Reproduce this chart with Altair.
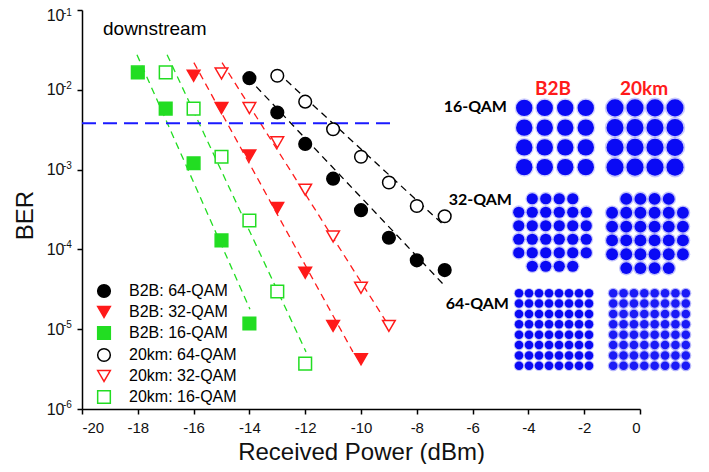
import altair as alt
import pandas as pd
import itertools

# ---------------- data ----------------
series_names = ["B2B: 64-QAM", "B2B: 32-QAM", "B2B: 16-QAM",
                "20km: 64-QAM", "20km: 32-QAM", "20km: 16-QAM"]

b2b64_p = [-14, -13, -12, -11, -10, -9, -8, -7]
b2b64_ber = [1.4e-2, 5.2e-3, 2.1e-3, 7.7e-4, 3.1e-4, 1.4e-4, 7.3e-5, 5.5e-5]
b2b32_p = [-16, -15, -14, -13, -12, -11, -10]
b2b32_ber = [1.5e-2, 5.9e-3, 1.5e-3, 3.3e-4, 5.1e-5, 1.1e-5, 4.2e-6]
b2b16_p = [-18, -17, -16, -15, -14]
b2b16_ber = [1.65e-2, 5.8e-3, 1.2e-3, 1.3e-4, 1.18e-5]
km64_p = [-13, -12, -11, -10, -9, -8, -7]
km64_ber = [1.5e-2, 7.1e-3, 3.2e-3, 1.45e-3, 6.9e-4, 3.5e-4, 2.6e-4]
km32_p = [-15, -14, -13, -12, -11, -10, -9]
km32_ber = [1.6e-2, 5.9e-3, 2.2e-3, 5.6e-4, 1.45e-4, 3.3e-5, 1.1e-5]
km16_p = [-17, -16, -15, -14, -13, -12]
km16_ber = [1.65e-2, 5.8e-3, 1.45e-3, 2.3e-4, 2.97e-5, 3.7e-6]

# fitted dashed lines (start / end)
fit_p0 = [-14.05, -15.99, -18.03, -13.0, -14.98, -16.95]
fit_p1 = [-6.99, -10.29, -13.98, -6.99, -9.05, -11.97]
fit_ber0 = [1.41e-2, 2.19e-2, 2.75e-2, 1.66e-2, 2.19e-2, 2.75e-2]
fit_ber1 = [3.47e-5, 5.2e-6, 1.78e-5, 1.95e-4, 1.17e-5, 5.2e-6]

# FEC threshold
fec_ber = 3.8e-3
fec_p = [-20, -8.71]

# y-axis decades
decades = [1e-6, 1e-5, 1e-4, 1e-3, 1e-2, 1e-1]
exponents = ["-6", "-5", "-4", "-3", "-2", "-1"]
x_ticks = [-20, -18, -16, -14, -12, -10, -8, -6, -4, -2, 0]

# constellation levels
qam16_levels = [-3, -1, 1, 3]
qam32_levels = [-5, -3, -1, 1, 3, 5]
qam64_levels = [-7, -5, -3, -1, 1, 3, 5, 7]

# ---------------- tables ----------------
pts = []
for name, ps, bs in zip(series_names,
                        [b2b64_p, b2b32_p, b2b16_p, km64_p, km32_p, km16_p],
                        [b2b64_ber, b2b32_ber, b2b16_ber, km64_ber, km32_ber, km16_ber]):
    for p, b in zip(ps, bs):
        pts.append({"series": name, "power": p, "ber": b})
pts_df = pd.DataFrame(pts)

fit_rows = []
for name, p0, p1, b0, b1 in zip(series_names, fit_p0, fit_p1, fit_ber0, fit_ber1):
    fit_rows.append({"fit": name, "power": p0, "ber": b0, "o": 0})
    fit_rows.append({"fit": name, "power": p1, "ber": b1, "o": 1})
fit_df = pd.DataFrame(fit_rows)

fec_df = pd.DataFrame({"power": fec_p, "ber": [fec_ber, fec_ber]})
exp_df = pd.DataFrame({"ber": decades, "exp": exponents})


def grid(levels, cross=False):
    rows = []
    for i, q in itertools.product(levels, levels):
        if cross and abs(i) == max(levels) and abs(q) == max(levels):
            continue
        rows.append({"I": i, "Q": q})
    return pd.DataFrame(rows)


# ---------------- styles ----------------
BLACK = "#000000"
RED = "#ff1a1a"
GREEN = "#22dd22"
BLUE = "#0a0af5"
FONT = "Liberation Sans"
CFONT = "Lato"

colors = [BLACK, RED, GREEN, BLACK, RED, GREEN]
fills = [BLACK, RED, GREEN, "white", "white", "white"]
shapes = ["circle", "triangle-down", "square", "circle", "triangle-down", "square"]

xs = alt.Scale(domain=[-20, 0], nice=False, zero=False)
ys = alt.Scale(type="log", domain=[1e-6, 1e-1], nice=False)

leg = alt.Legend(orient="none", legendX=14, legendY=273, title=None,
                 symbolSize=160, symbolStrokeWidth=1.5, labelFontSize=16,
                 labelFont=FONT, labelColor="black", rowPadding=2,
                 labelOffset=17, padding=0)

x_axis = alt.Axis(values=x_ticks, labelExpr="'' + datum.value",
                  title="Received Power (dBm)", grid=False,
                  domainColor="black", domainWidth=1.5, tickColor="black",
                  tickWidth=1.5, tickSize=5, labelFont=FONT, labelFontSize=15,
                  labelColor="#111", labelPadding=6, titleFont=FONT,
                  titleFontSize=24, titleFontWeight="normal", titleColor="#111",
                  titleY=50, titleBaseline="alphabetic")
y_axis = alt.Axis(values=decades, labelExpr="'10'", title="BER", grid=False,
                  domainColor="black", domainWidth=1.5, tickColor="black",
                  tickWidth=1.5, tickSize=5, labelFont=FONT, labelFontSize=16,
                  labelColor="#111", labelPadding=13,
                  labelOffset={"condition": {"test": "datum.value > 0.05", "value": 5},
                               "value": 0},
                  titleFont=FONT,
                  titleFontSize=24, titleFontWeight="normal", titleColor="#111",
                  titleX=-57, titleY=205, titleAngle=-90, titleBaseline="middle")


def fit_layer(names, color, axes=False):
    return alt.Chart(fit_df).transform_filter(
        alt.FieldOneOfPredicate(field="fit", oneOf=names)
    ).mark_line(strokeDash=[7, 5], strokeWidth=1.3, color=color).encode(
        x=alt.X("power:Q", scale=xs, axis=x_axis if axes else None),
        y=alt.Y("ber:Q", scale=ys, axis=y_axis if axes else None),
        detail="fit:N",
        order="o:Q",
    )


line_layers = [
    fit_layer([series_names[0], series_names[3]], BLACK, axes=True),
    fit_layer([series_names[1], series_names[4]], RED),
    fit_layer([series_names[2], series_names[5]], GREEN),
]

fec = alt.Chart(fec_df).mark_line(strokeDash=[14, 7], strokeWidth=2, color="#1a1aff").encode(
    x=alt.X("power:Q", scale=xs, axis=None),
    y=alt.Y("ber:Q", scale=ys, axis=None),
)

points = alt.Chart(pts_df).mark_point(strokeWidth=1.5, opacity=1, size=160).encode(
    x=alt.X("power:Q", scale=xs, axis=None),
    y=alt.Y("ber:Q", scale=ys, axis=None),
    shape=alt.Shape("series:N", scale=alt.Scale(domain=series_names, range=shapes), legend=leg),
    stroke=alt.Stroke("series:N", scale=alt.Scale(domain=series_names, range=colors), legend=leg),
    fill=alt.Fill("series:N", scale=alt.Scale(domain=series_names, range=fills), legend=leg),
)

exps = alt.Chart(exp_df).transform_filter("datum.ber < 0.05").mark_text(
    align="left", baseline="middle", fontSize=10, font=FONT, color="#111", dy=-4).encode(
    x=alt.value(-19),
    y=alt.Y("ber:Q", scale=ys, axis=None),
    text="exp:N",
)
exp_top = alt.Chart(exp_df).transform_filter("datum.ber > 0.05").mark_text(
    align="left", baseline="middle", fontSize=10, font=FONT, color="#111", dy=3).encode(
    x=alt.value(-19),
    y=alt.Y("ber:Q", scale=ys, axis=None),
    text="exp:N",
)


def label(txt, x, y, size, color="black", align="left", font=FONT, weight="normal",
          baseline="alphabetic"):
    return alt.Chart(pd.DataFrame({"t": [txt]})).mark_text(
        align=align, baseline=baseline, fontSize=size, font=font, fontWeight=weight,
        color=color).encode(x=alt.value(x), y=alt.value(y), text="t:N")


annots = [
    label("downstream", 21, 25, 19),
    label("B2B", 471, 85, 19, RED, "center", CFONT, "bold"),
    label("20km", 562, 85, 19, RED, "center", CFONT, "bold"),
    label("16-QAM", 425, 97, 16, "black", "right", CFONT, "bold", "middle"),
    label("32-QAM", 430, 190, 16, "black", "right", CFONT, "bold", "middle"),
    label("64-QAM", 427, 294, 16, "black", "right", CFONT, "bold", "middle"),
]


def panel(df, dom, xr, yr, core, halo, core_op, halo_op):
    sx = alt.Scale(domain=[-dom, dom], range=xr, nice=False, zero=False)
    sy = alt.Scale(domain=[-dom, dom], range=yr, nice=False, zero=False)
    base = alt.Chart(df)
    h = base.mark_circle(size=halo, color=BLUE, opacity=halo_op).encode(
        x=alt.X("I:Q", scale=sx, axis=None), y=alt.Y("Q:Q", scale=sy, axis=None))
    c = base.mark_circle(size=core, color=BLUE, opacity=core_op).encode(
        x=alt.X("I:Q", scale=sx, axis=None), y=alt.Y("Q:Q", scale=sy, axis=None))
    return [h, c]


g16 = grid(qam16_levels)
g32 = grid(qam32_levels, cross=True)
g64 = grid(qam64_levels)

panels = []
panels += panel(g16, 4, [432, 514], [167, 88], 270, 370, 1.0, 0.18)
panels += panel(g16, 4, [523, 603], [167, 88], 290, 420, 1.0, 0.22)
panels += panel(g32, 6, [430, 511], [263, 182], 125, 190, 1.0, 0.22)
panels += panel(g32, 6, [523, 608], [265, 182], 140, 215, 1.0, 0.25)
panels += panel(g64, 8, [432, 512], [361, 278], 72, 110, 1.0, 0.25)
panels += panel(g64, 8, [526, 609], [361, 278], 72, 120, 0.9, 0.3)

chart = alt.layer(*line_layers, fec, points, exps, exp_top, *annots, *panels).resolve_scale(
    x="independent", y="independent"
).properties(
    width=558, height=399,
    padding={"left": 74, "top": 2, "right": 55, "bottom": 55},
    autosize=alt.AutoSizeParams(type="none"),
    background="white",
).configure_view(stroke=None)

chart.save("out.html", embed_options={"renderer": "svg", "actions": False})
